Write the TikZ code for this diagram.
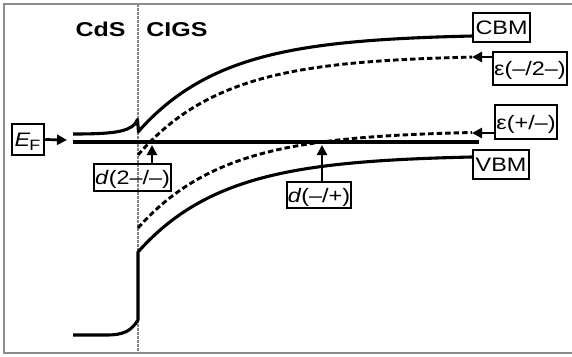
\documentclass[tikz,border=0pt]{standalone}
\usepackage{fontspec}
\setmainfont{Liberation Sans}[FakeStretch=1.2]
\newfontfamily\regionfont{Liberation Sans}[FakeStretch=1.25]
\usetikzlibrary{arrows.meta}
\definecolor{framegray}{RGB}{140,140,140}
\definecolor{divgray}{RGB}{130,130,130}
\begin{document}
\begin{tikzpicture}[x=1pt,y=-1pt,
  lbl/.style={draw=black, line width=2.5pt, inner sep=0pt, font=\fontsize{19.5}{19.5}\selectfont, text height=14pt, text depth=0pt},
  region/.style={inner sep=0pt, font=\regionfont\bfseries\fontsize{20}{20}\selectfont},
  band/.style={line width=3.1pt, line join=round},
  lvl/.style={line width=2.9pt, dash pattern=on 5.5pt off 3pt},
  arr/.style={line width=2.7pt, -{Triangle[length=10pt,width=10pt]}},
  divider/.style={draw=divgray, line width=1.4pt, dash pattern=on 2.5pt off 1.5pt},
  frameline/.style={draw=framegray, line width=2.4pt}]
\useasboundingbox (0,0) rectangle (572,356);
% frame
\draw[frameline] (576,4) -- (4,4) -- (4,353) -- (576,353);
% divider
\draw[divider] (138,4) -- (138,353);
% region labels
\node[region] (cds) at (100.5,29.5) {CdS};
\node[region] (cigs) at (177,29.5) {CIGS};
% Fermi level
\draw[band] (73,142) -- (479,142);
% conduction band
\draw[band] (73,134) .. controls (112,134) and (127,132) .. (135,124) -- (137.5,119.5) -- (138.5,132)
  -- plot[domain=138.5:473, samples=90] (\x,{34+98*exp(-(\x-138)/86)});
% valence band
\draw[band] (73,335) -- (106,335) .. controls (124,335) and (131,331) .. (138,320) -- (138,252)
  -- plot[domain=138:473, samples=90] (\x,{155+97*exp(-(\x-138)/86)});
% transition levels
\draw[lvl] plot[domain=138:472, samples=90] (\x,{55+100*exp(-(\x-138)/86)});
\draw[lvl] plot[domain=138:472, samples=90] (\x,{130.5+97.5*exp(-(\x-138)/86)});
% label boxes
\node[lbl, minimum width=32pt, minimum height=31pt] (ef) at (28,139.5) {\kern-1pt\textit{E}\kern-1pt\raisebox{-3.5pt}{\fontsize{15}{15}\selectfont F}};
\node[lbl, minimum width=57pt, minimum height=29pt] (cbm) at (501.5,27.5) {CBM};
\node[lbl, minimum width=74pt, minimum height=33pt] (em2) at (530,68.5) {ε(–/2–)};
\node[lbl, minimum width=62pt, minimum height=34pt] (epm) at (526,122) {ε(+/–)};
\node[lbl, minimum width=56pt, minimum height=29pt] (vbm) at (501,164.5) {VBM};
\node[lbl, minimum width=77pt, minimum height=27pt] (d2) at (132.5,177.5) {\textit{d}(2–/–)};
\node[lbl, minimum width=64pt, minimum height=26pt] (dmp) at (319,195) {\textit{d}(–/+)};
% arrows
\coordinate (eftip) at (67,140);
\coordinate (t1) at (472,57);
\coordinate (t2) at (472,133);
\coordinate (t3) at (152,145);
\coordinate (t4) at (322,145);
\draw[arr] (ef.east) -- (eftip);
\draw[arr] (em2.west |- t1) -- (t1);
\draw[arr] (epm.west |- t2) -- (t2);
\draw[arr] (d2.north -| t3) -- (t3);
\draw[arr] (dmp.north -| t4) -- (t4);
\end{tikzpicture}
\end{document}
